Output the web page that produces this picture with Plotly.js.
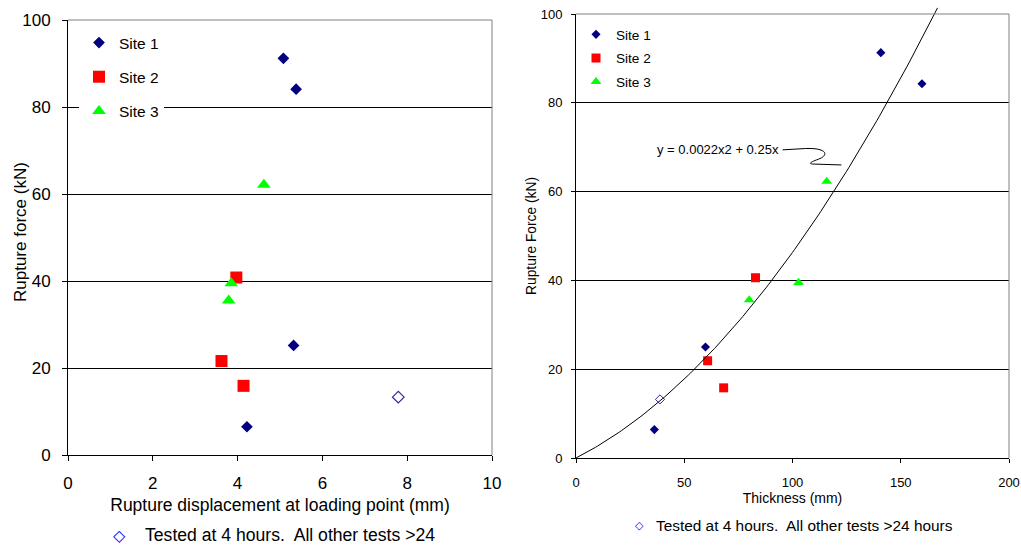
<!DOCTYPE html>
<html><head><meta charset="utf-8">
<script src="https://cdn.plot.ly/plotly-3.0.1.min.js"></script>
<style>html,body{margin:0;padding:0;background:#fff}#chart{width:1021px;height:546px}</style>
</head><body><div id="chart"></div>
<script>
// ---- Left chart data: rupture displacement (mm) vs rupture force (kN)
const site1Disp = [5.08, 5.38, 5.32, 4.22];
const site1ForceL = [91.2, 84.1, 25.2, 6.5];
const site2Disp = [3.97, 3.62, 4.14];
const site2ForceL = [40.8, 21.6, 15.9];
const site3Disp = [4.62, 3.85, 3.79];
const site3ForceL = [62.1, 39.5, 35.5];
const earlyDisp = [7.79];
const earlyForceL = [13.3];

// ---- Right chart data: thickness (mm) vs rupture force (kN)
const site1Thick = [140.8, 159.8, 59.8, 36.2];
const site1ForceR = [91.3, 84.3, 25.0, 6.4];
const site2Thick = [82.9, 60.8, 68.2];
const site2ForceR = [40.6, 21.9, 15.8];
const site3Thick = [115.8, 80.0, 102.8];
const site3ForceR = [62.3, 35.6, 39.5];
const earlyThick = [38.8];
const earlyForceR = [13.2];

// trendline (polynomial through origin), coefficients
const trendCoef = [0.00215, 0.248];
const trendXMax = 167;
const equationText = 'y = 0.0022x2 + 0.25x';

const seriesNames = ['Site 1', 'Site 2', 'Site 3'];
const xTitleLeft = 'Rupture displacement at loading point (mm)';
const yTitleLeft = 'Rupture force (kN)';
const xTitleRight = 'Thickness (mm)';
const yTitleRight = 'Rupture Force (kN)';
const noteLeft = 'Tested at 4 hours.\u00A0 All other tests >24';
const noteRight = 'Tested at 4 hours.\u00A0 All other tests >24 hours';

// ---- styles
const W = 1021, H = 546;
const FONT = 'Liberation Sans, Arial, Helvetica, sans-serif';
const NAVY = '#000080', RED = '#ff0000', GREEN = '#00ff00', HOLLOW = '#2a2aa0';

const xd1 = [68 / W, 492 / W], yd1 = [1 - 455 / H, 1 - 20 / H];
const xd2 = [576 / W, 1009 / W], yd2 = [1 - 458 / H, 1 - 14 / H];
const yd3 = [yd2[0], 1];
const y3Top = 100 * (yd3[1] - yd3[0]) / (yd2[1] - yd2[0]);

const trendX = [], trendY = [];
for (let i = 0; i <= trendXMax; i++) { trendX.push(i); trendY.push(trendCoef[0] * i * i + trendCoef[1] * i); }

function mk(x, y, name, sym, color, size, axes, legend, group) {
  return {x, y, name, type: 'scatter', mode: 'markers', xaxis: axes[0], yaxis: axes[1],
    legend, legendgroup: group, showlegend: true, cliponaxis: false,
    marker: {symbol: sym, color, size, line: {width: 0}}, hoverinfo: 'x+y'};
}

const traces = [
  mk(site1Disp, site1ForceL, seriesNames[0], 'diamond', NAVY, 9, ['x', 'y'], 'legend', 'a'),
  mk(site2Disp, site2ForceL, seriesNames[1], 'square', RED, 12, ['x', 'y'], 'legend', 'b'),
  mk(site3Disp, site3ForceL, seriesNames[2], 'triangle-up', GREEN, 12, ['x', 'y'], 'legend', 'c'),
  {x: earlyDisp, y: earlyForceL, type: 'scatter', mode: 'markers', xaxis: 'x', yaxis: 'y', showlegend: false,
    marker: {symbol: 'diamond-open', color: HOLLOW, size: 9, line: {width: 1.2, color: HOLLOW}}},
  mk(site1Thick, site1ForceR, seriesNames[0], 'diamond', NAVY, 7, ['x2', 'y2'], 'legend2', 'd'),
  mk(site2Thick, site2ForceR, seriesNames[1], 'square', RED, 9, ['x2', 'y2'], 'legend2', 'e'),
  mk(site3Thick, site3ForceR, seriesNames[2], 'triangle-up', GREEN, 9.5, ['x2', 'y2'], 'legend2', 'f'),
  {x: earlyThick, y: earlyForceR, type: 'scatter', mode: 'markers', xaxis: 'x2', yaxis: 'y2', showlegend: false,
    marker: {symbol: 'diamond-open', color: HOLLOW, size: 7, line: {width: 1, color: HOLLOW}}},
  {x: trendX, y: trendY, type: 'scatter', mode: 'lines', xaxis: 'x3', yaxis: 'y3', showlegend: false,
    line: {color: '#000', width: 1}, hoverinfo: 'skip'}
];

const axBase = {showline: true, linecolor: '#000', linewidth: 1, ticks: 'outside', tickcolor: '#000',
  zeroline: false, automargin: false, fixedrange: true};

function note(text, x, y, size, color, family, anchor, angle) {
  return {text, xref: 'paper', yref: 'paper', x: x / W, y: 1 - y / H, showarrow: false,
    xanchor: anchor, yanchor: 'middle', textangle: angle || 0, font: {size, color, family}};
}

const layout = {
  width: W, height: H, autosize: false,
  margin: {l: 0, r: 0, t: 0, b: 0, pad: 0},
  paper_bgcolor: '#fff', plot_bgcolor: 'rgba(0,0,0,0)',
  font: {family: FONT, color: '#000'},
  xaxis: Object.assign({}, axBase, {domain: xd1, anchor: 'y', range: [0, 10], tick0: 0, dtick: 2, ticklen: 5,
    showgrid: false, tickfont: {size: 17}, ticklabelstandoff: 8,
    title: {text: xTitleLeft, font: {size: 17.5}, standoff: 6}}),
  yaxis: Object.assign({}, axBase, {domain: yd1, anchor: 'x', range: [0, 100], tick0: 0, dtick: 20, ticklen: 5,
    showgrid: true, gridcolor: '#000', gridwidth: 1, tickfont: {size: 17}, ticklabelstandoff: 8}),
  xaxis2: Object.assign({}, axBase, {domain: xd2, anchor: 'y2', range: [0, 200], tick0: 0, dtick: 50, ticklen: 4,
    showgrid: false, tickfont: {size: 13}, ticklabelstandoff: 8,
    title: {text: xTitleRight, font: {size: 14}, standoff: 4}}),
  yaxis2: Object.assign({}, axBase, {domain: yd2, anchor: 'x2', range: [0, 100], tick0: 0, dtick: 20, ticklen: 4,
    showgrid: true, gridcolor: '#000', gridwidth: 1, tickfont: {size: 13}, ticklabelstandoff: 6}),
  xaxis3: {domain: xd2, anchor: 'y3', range: [0, 200], visible: false, fixedrange: true},
  yaxis3: {domain: yd3, anchor: 'x3', range: [0, y3Top], visible: false, fixedrange: true},
  legend: {x: 79 / W, xanchor: 'left', y: 1 - 26 / H, yanchor: 'top', bgcolor: '#fff', borderwidth: 0,
    font: {size: 15.5, family: FONT}, traceorder: 'grouped', tracegroupgap: 11, itemwidth: 30},
  legend2: {x: 576 / W, xanchor: 'left', y: 1 - 19 / H, yanchor: 'top', bgcolor: 'rgba(255,255,255,0)', borderwidth: 0,
    font: {size: 13.6, family: FONT}, traceorder: 'grouped', tracegroupgap: 3, itemwidth: 30},
  shapes: [
    // white legend panel of the left chart (interrupts the 80 gridline)
    {type: 'rect', xref: 'x domain', yref: 'y domain', x0: (75 - 68) / 424, x1: (189 - 68) / 424,
      y0: (455 - 124) / 435, y1: (455 - 28) / 435, fillcolor: '#fff', line: {width: 0}, layer: 'below'},
    {type: 'line', xref: 'x domain', yref: 'y domain', x0: 0, x1: 1, y0: 1, y1: 1, line: {color: '#808080', width: 1}, layer: 'above'},
    {type: 'line', xref: 'x domain', yref: 'y domain', x0: 1, x1: 1, y0: 0, y1: 1, line: {color: '#808080', width: 1}, layer: 'above'},
    {type: 'line', xref: 'x2 domain', yref: 'y2 domain', x0: 0, x1: 1, y0: 1, y1: 1, line: {color: '#808080', width: 1}, layer: 'above'},
    {type: 'line', xref: 'x2 domain', yref: 'y2 domain', x0: 1, x1: 1, y0: 0, y1: 1, line: {color: '#808080', width: 1}, layer: 'above'},
    {type: 'path', xref: 'x2', yref: 'y2', layer: 'above', line: {color: '#000', width: 1},
      path: 'M95.4,69.4 L106,69.7 C116,69.9 117,68.2 112,67.3 C108,66.6 107,66.2 110,66.2 L122.6,66.0'}
  ],
  annotations: [
    {text: equationText, xref: 'x2', yref: 'y2', x: 65.5, y: 69.4, showarrow: false, xanchor: 'center', yanchor: 'middle',
      font: {size: 13, family: FONT, color: '#000'}},
    note(yTitleLeft, 20, 232, 17, '#000', FONT, 'center', -90),
    note(yTitleRight, 531, 236, 13.8, '#000', FONT, 'center', -90),
    note('\u25C7', 119, 535, 16, '#0000ff', 'DejaVu Sans', 'center'),
    note(noteLeft, 143, 535, 17.6, '#000', FONT, 'left'),
    note('\u25C7', 639, 525.5, 11, '#0000ff', 'DejaVu Sans', 'center'),
    note(noteRight, 654, 525, 15.4, '#000', FONT, 'left')
  ],
  hovermode: false
};

Plotly.newPlot('chart', traces, layout, {staticPlot: true, displayModeBar: false});
</script></body></html>
